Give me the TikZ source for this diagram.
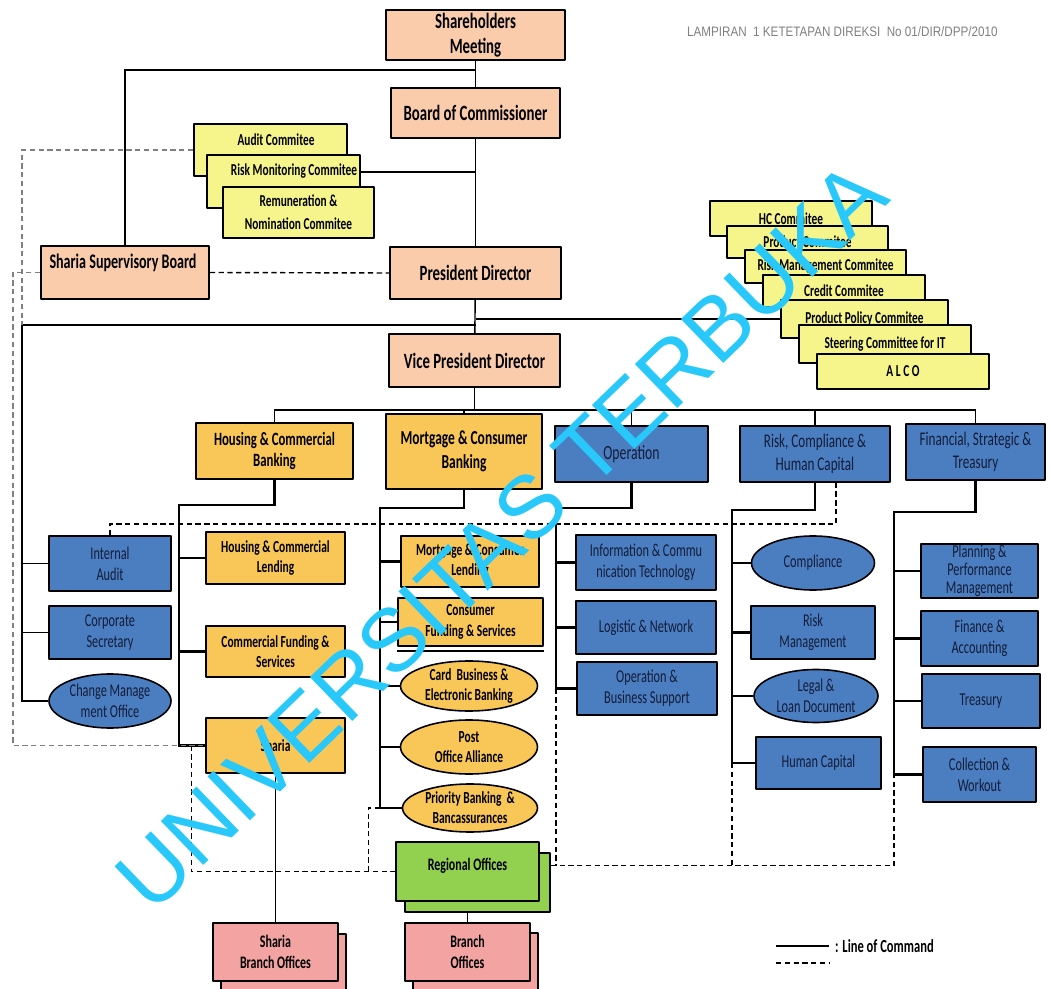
\documentclass[tikz,border=0pt]{standalone}
\usepackage{fontspec}
\setmainfont[FakeStretch=0.68]{Carlito}
\newfontfamily\hdrfont[FakeStretch=0.85]{Liberation Sans}
\newfontfamily\wmfont{Liberation Sans}
\usetikzlibrary{shapes.geometric,calc,backgrounds}
\definecolor{peach}{RGB}{250,204,172}
\definecolor{cmtyel}{RGB}{245,245,140}
\definecolor{orng}{RGB}{249,199,88}
\definecolor{bblue}{RGB}{74,126,193}
\definecolor{grn}{RGB}{146,208,80}
\definecolor{pnk}{RGB}{244,163,163}
\definecolor{navy}{RGB}{20,28,55}
\definecolor{wmcyan}{RGB}{40,200,250}
\tikzset{
  bx/.style={draw, line width=0.9pt, align=center, inner sep=1pt},
  sz/.style 2 args={minimum width=#1*0.2mm, minimum height=#2*0.2mm},
  pch/.style={bx, fill=peach, font=\fontsize{12.4}{14}\selectfont\bfseries},
  cmt/.style={bx, fill=cmtyel, font=\fontsize{9.5}{13}\selectfont\bfseries},
  org/.style={bx, fill=orng, font=\fontsize{9.6}{11.5}\selectfont\bfseries},
  blu/.style={bx, fill=bblue, text=navy, font=\fontsize{10.3}{12}\selectfont},
  ell/.style={ellipse, inner xsep=0pt, inner ysep=-3pt},
  grb/.style={bx, fill=grn, font=\fontsize{10}{12}\selectfont\bfseries},
  pkb/.style={bx, fill=pnk, font=\fontsize{10}{12}\selectfont\bfseries},
  cn/.style={line width=0.8pt},
  thk/.style={line width=1.3pt},
  dsh/.style={line width=0.8pt, dash pattern=on 3pt off 2pt},
}
\begin{document}
\begin{tikzpicture}[x=0.2mm, y=-0.2mm, line join=round]
\useasboundingbox (0,0) rectangle (1049,989);
% board level
\node[pch, sz={179}{50}] (shm) at (475.5,35) {Shareholders\\Meeting};
\node[pch, sz={169}{50}] (boc) at (475.5,113) {Board of Commissioner};
\node[pch, sz={171}{52}] (pd) at (475.5,273) {President Director};
\node[pch, sz={171}{53}] (vpd) at (474.5,360.5) {Vice President Director};
\node[pch, sz={168}{53}] (ssb) at (125,272.5) {};
\node[font=\fontsize{11.8}{14}\selectfont\bfseries] (ssb-t) at (123,263) {Sharia Supervisory Board};
% committees of the board
\node[cmt, sz={153}{52}] (audit) at (270.5,150) {};
\node[cmt, draw=none, fill=none] (audit-t) at (276,140) {Audit Commitee};
\node[cmt, sz={153}{53}] (riskmon) at (283.5,181.5) {};
\node[cmt, draw=none, fill=none] (riskmon-t) at (294,171) {Risk Monitoring Commitee};
\node[cmt, sz={151}{51}] (remun) at (298.5,212.5) {Remuneration \&\\Nomination Commitee};
% committees of the directors
\foreach \n/\x/\y/\w/\h/\t in {hc/791/218.5/162/35/{HC Commitee}, prod/807.5/242/161/32/{Product Commitee},
  rmc/825.5/266.5/161/33/{Risk Management Commitee}, cred/844/291/162/32/{Credit Commitee},
  ppc/864.5/319/167/38/{Product Policy Commitee}, steer/885/344/172/38/{Steering Committee for IT},
  alco/903/371.5/172/35/{A L C O}}
  \node[cmt, sz={\w}{\h}] (\n) at (\x,\y) {\t};
% directorates
\node[org, sz={157}{56}, font=\fontsize{10.7}{12}\selectfont\bfseries] (hcb) at (274.5,451) {Housing \& Commercial\\Banking};
\node[org, sz={156}{75}, font=\fontsize{11.3}{14}\selectfont\bfseries] (mcb) at (464,451.5) {Mortgage \& Consumer\\Banking};
\node[blu, sz={153}{56}, font=\fontsize{11.5}{13}\selectfont] (op) at (631.5,454) {Operation};
\node[blu, sz={150}{56}, font=\fontsize{11}{13}\selectfont] (rch) at (815,454) {Risk, Compliance \&\\Human Capital};
\node[blu, sz={139}{56}, font=\fontsize{11}{13}\selectfont] (fst) at (975.5,452) {Financial, Strategic \&\\Treasury};
% divisions
\foreach \n/\x/\y/\w/\h/\t in {hcl/275.5/558/139/52/{Housing \& Commercial\\Lending},
  cfs/275.5/651.5/139/51/{Commercial Funding \&\\Services}, sharia/275.5/745.5/139/55/{Sharia},
  mcl/470/561.5/138/51/{Mortgage \& Consumer\\Lending}, cnfs/470.5/622/145/48/{Consumer\\Funding \& Services}}
  \node[org, sz={\w}{\h}] (\n) at (\x,\y) {\t};
\draw[line width=0.9pt] ([yshift=-0.8mm]cnfs.south west) -- ([yshift=-0.8mm]cnfs.south east);
\foreach \n/\x/\y/\w/\h/\t in {card/469/686/137/50/{Card\ \ Business \&\\Electronic Banking},
  post/469/747/137/54/{Post\\Office Alliance}, prio/470/808/135/48/{Priority Banking\ \ \&\\Bancassurances}}
  \node[org, ell, sz={\w}{\h}] (\n) at (\x,\y) {\t};
\foreach \n/\x/\y/\w/\h/\t in {ia/110/563.5/122/55/{Internal\\Audit}, cs/110/632.5/122/53/{Corporate\\Secretary},
  ict/646/562.5/140/55/{Information \& Commu\\nication Technology}, lgn/646/627.5/140/53/{Logistic \& Network},
  obs/647/688.5/140/53/{Operation \&\\Business Support}, risk/813/632.5/124/53/{Risk\\Management},
  hcap/818.5/763/125/52/{Human Capital}, fin/979.5/638.5/117/55/{Finance \&\\Accounting},
  treas/981/701/118/54/{Treasury}, coll/979.5/774.5/113/55/{Collection \&\\Workout}}
  \node[blu, sz={\w}{\h}] (\n) at (\x,\y) {\t};
\node[blu, sz={117}{54}, inner sep=0pt, font=\fontsize{10.3}{10.2}\selectfont] (plan) at (979.5,571) {Planning \&\\Performance\\Management};
\foreach \n/\x/\y/\w/\h/\t in {cmo/110/701/122/54/{Change Manage\\ment Office},
  comp/813/563/123/54/{Compliance}, legal/816/696/124/53/{Legal \&\\Loan Document}}
  \node[blu, ell, sz={\w}{\h}] (\n) at (\x,\y) {\t};
% offices
\node[grb, sz={145}{59}] (ro-b) at (477.5,882.5) {};
\node[grb, sz={143}{59}] (ro) at (467.5,871.5) {};
\node[grb, draw=none, fill=none] (ro-t) at (467.5,866) {Regional Offices};
\node[pkb, sz={125}{58}] (sbo-b) at (283.5,963) {};
\node[pkb, sz={125}{58}] (sbo) at (275.5,952) {Sharia\\Branch Offices};
\node[pkb, sz={125}{58}] (bo-b) at (475.5,962) {};
\node[pkb, sz={125}{58}] (bo) at (467.5,952) {Branch\\Offices};
% header and legend
\node[anchor=west, text=gray, font=\hdrfont\fontsize{7.8}{9}\selectfont] (hdr) at (681,32) {LAMPIRAN\ \ 1 KETETAPAN DIREKSI\ \ No 01/DIR/DPP/2010};
\node[anchor=west, font=\fontsize{10.5}{12}\selectfont\bfseries] (lgt) at (829,946) {: Line of Command};
\begin{scope}[on background layer]
  \fill[white] (0,0) rectangle (1049,989);
  \coordinate (topbus) at (475.5,70);
  \coordinate (lt) at (22,325);
  \coordinate (vb) at (474.5,410);
  \coordinate (hcbv) at (179,505);
  \coordinate (mcbv) at (380,508);
  \coordinate (opv) at (556,508);
  \coordinate (rchv) at (732,510);
  \coordinate (fstv) at (894,512);
  % line of command
  \draw[cn] (shm) -- (boc);
  \draw[cn] (ssb.north) |- (topbus);
  \draw[cn] (boc) -- (pd);
  \draw[cn] (riskmon.east |- 0,172) -- (boc.south |- 0,172);
  \draw[cn] (pd) -- (vpd);
  \draw[thk] (pd.south |- lt) -- (lt);
  \draw[cn] (lt) |- (cmo.west);
  \draw[cn] (lt |- ia.west) -- (ia.west);
  \draw[cn] (lt |- cs.west) -- (cs.west);
  \draw[cn] (ppc.west) -- (ppc.west -| pd.south);
  \draw[cn] (vpd.south) -- (vb);
  \draw[cn] (hcb.north) |- (vb) -| (fst.north);
  \draw[cn] (op.north) -- (op.north |- vb);
  \draw[cn] (rch.north) -- (rch.north |- vb);
  \draw[cn] (mcb.north) -- (mcb.north |- vb);
  \foreach \u/\v/\last in {hcb/hcbv/sharia, mcb/mcbv/prio, op/opv/obs, rch/rchv/hcap, fst/fstv/coll}
    \draw[thk] (\u.south) |- (\v) |- (\last.west);
  \foreach \v/\n in {hcbv/hcl, hcbv/cfs, mcbv/mcl, mcbv/cnfs, mcbv/card, mcbv/post,
    opv/ict, opv/lgn, rchv/comp, rchv/risk, rchv/legal, fstv/plan, fstv/fin, fstv/treas}
    \draw[thk] (\n.west) -- (\n.west -| \v);
  \draw[cn] (sharia) -- (sbo);
  \draw[cn] (ro) -- (bo);
  % coordination
  \draw[dsh, gray] (audit.west) -| (lt);
  \draw[dsh] (ssb.east) -- (pd.west);
  \draw[dsh, gray] (ssb.west) -| (13,745.5) -- (sharia.west);
  \coordinate (rchd) at ($(rch.south)+(21,0)$);
  \draw[dsh] (ia.north) |- (rchd |- 0,524) -- (rchd);
  \coordinate (sd) at ($(sharia.west)+(-14,0)$);
  \draw[dsh] (sd) |- (ro.west);
  \draw[dsh] ($(ro.west)+(-27,0)$) |- (prio.west -| mcbv);
  \coordinate (rod) at ($(ro-b.east)+(0,-17)$);
  \draw[dsh] (rod) -| (coll.west -| fstv);
  \draw[dsh] (obs.west -| opv) -- (opv |- rod);
  \draw[dsh] (hcap.west -| rchv) -- (rchv |- rod);
  % legend
  \coordinate (lg1) at (776,946); \coordinate (lg2) at (829,946);
  \coordinate (lg3) at (776,963); \coordinate (lg4) at (829,963);
  \draw[cn] (lg1) -- (lg2);
  \draw[dsh, line width=0.6pt] (lg3) -- (lg4);
\end{scope}
% watermark
\node[rotate=44, text=wmcyan, font=\wmfont\fontsize{50.5}{50.5}\selectfont] (wm) at (501,536) {UNIVERSITAS TERBUKA};
\end{tikzpicture}
\end{document}
